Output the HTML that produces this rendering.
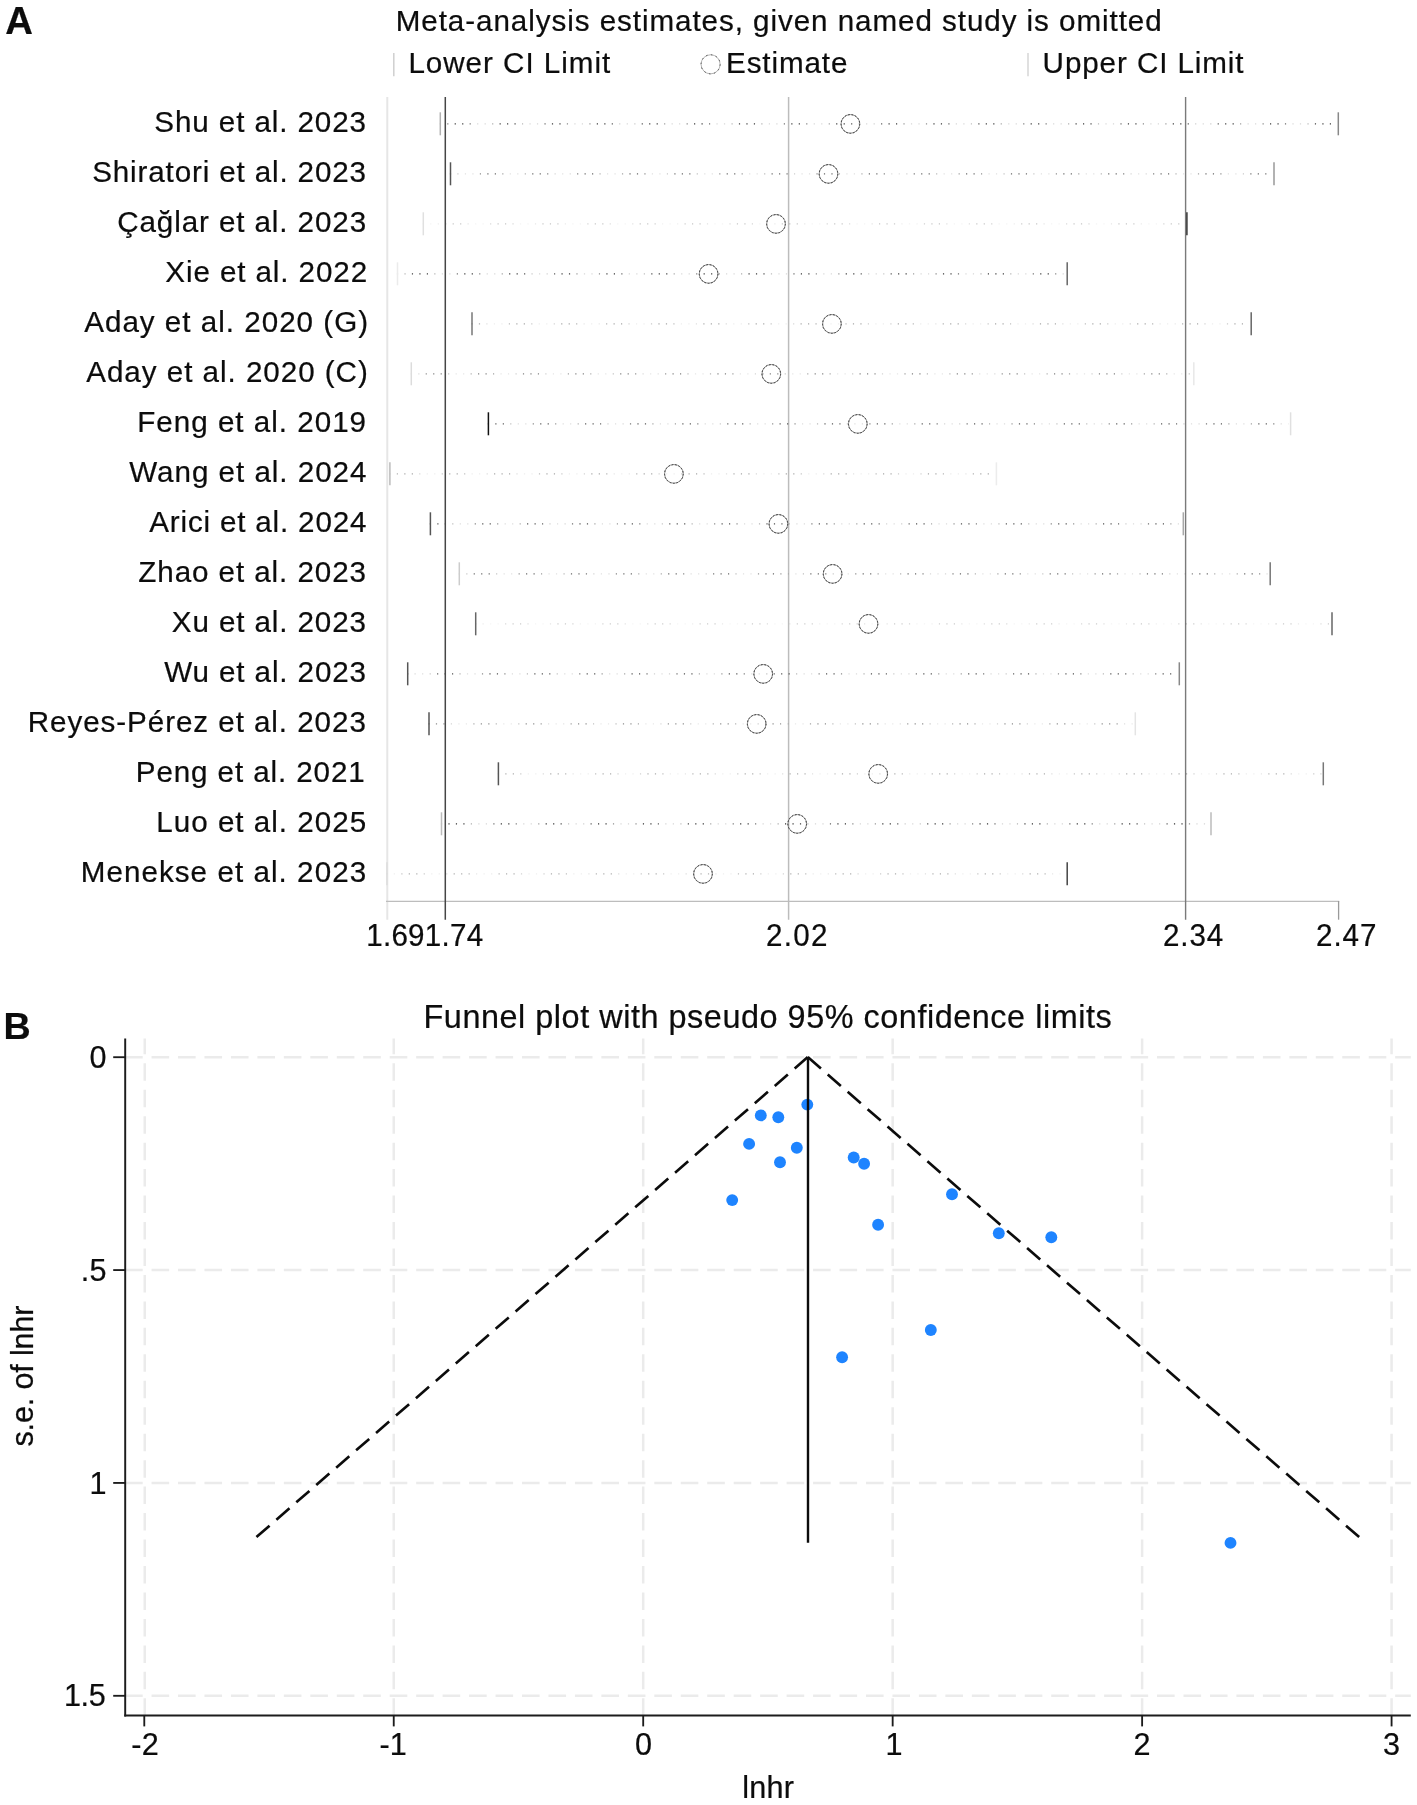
<!DOCTYPE html>
<html lang="en">
<head>
<meta charset="utf-8">
<title>Figure: leave-one-out meta-analysis and funnel plot</title>
<style>
html,body{margin:0;padding:0;background:#fff;}
body{width:1417px;height:1805px;overflow:hidden;font-family:"Liberation Sans",sans-serif;}
svg{display:block;will-change:transform;}
text{font-family:"Liberation Sans",sans-serif;fill:#0c0c0c;stroke:#0c0c0c;stroke-width:0.22px;white-space:pre;}
</style>
</head>
<body>
<svg width="1417" height="1805" viewBox="0 0 1417 1805">
<rect x="0" y="0" width="1417" height="1805" fill="#ffffff"/>
<defs>
<linearGradient id="m0" gradientUnits="userSpaceOnUse" x1="459.2" y1="0" x2="507.2" y2="0" spreadMethod="repeat"><stop offset="0" stop-color="#333" stop-opacity="1"/><stop offset="0.15" stop-color="#333" stop-opacity="1"/><stop offset="0.36" stop-color="#333" stop-opacity="0.2"/><stop offset="0.64" stop-color="#333" stop-opacity="0.2"/><stop offset="0.85" stop-color="#333" stop-opacity="1"/><stop offset="1" stop-color="#333" stop-opacity="1"/></linearGradient>
<linearGradient id="m1" gradientUnits="userSpaceOnUse" x1="490.8" y1="0" x2="538.8" y2="0" spreadMethod="repeat"><stop offset="0" stop-color="#333" stop-opacity="1"/><stop offset="0.15" stop-color="#333" stop-opacity="1"/><stop offset="0.36" stop-color="#333" stop-opacity="0.2"/><stop offset="0.64" stop-color="#333" stop-opacity="0.2"/><stop offset="0.85" stop-color="#333" stop-opacity="1"/><stop offset="1" stop-color="#333" stop-opacity="1"/></linearGradient>
<linearGradient id="m2" gradientUnits="userSpaceOnUse" x1="454" y1="0" x2="502" y2="0" spreadMethod="repeat"><stop offset="0" stop-color="#333" stop-opacity="1"/><stop offset="0.15" stop-color="#333" stop-opacity="1"/><stop offset="0.36" stop-color="#333" stop-opacity="0.2"/><stop offset="0.64" stop-color="#333" stop-opacity="0.2"/><stop offset="0.85" stop-color="#333" stop-opacity="1"/><stop offset="1" stop-color="#333" stop-opacity="1"/></linearGradient>
<linearGradient id="m3" gradientUnits="userSpaceOnUse" x1="420" y1="0" x2="468" y2="0" spreadMethod="repeat"><stop offset="0" stop-color="#333" stop-opacity="1"/><stop offset="0.15" stop-color="#333" stop-opacity="1"/><stop offset="0.36" stop-color="#333" stop-opacity="0.2"/><stop offset="0.64" stop-color="#333" stop-opacity="0.2"/><stop offset="0.85" stop-color="#333" stop-opacity="1"/><stop offset="1" stop-color="#333" stop-opacity="1"/></linearGradient>
<linearGradient id="m4" gradientUnits="userSpaceOnUse" x1="519.7" y1="0" x2="567.7" y2="0" spreadMethod="repeat"><stop offset="0" stop-color="#333" stop-opacity="1"/><stop offset="0.15" stop-color="#333" stop-opacity="1"/><stop offset="0.36" stop-color="#333" stop-opacity="0.2"/><stop offset="0.64" stop-color="#333" stop-opacity="0.2"/><stop offset="0.85" stop-color="#333" stop-opacity="1"/><stop offset="1" stop-color="#333" stop-opacity="1"/></linearGradient>
<linearGradient id="m5" gradientUnits="userSpaceOnUse" x1="435" y1="0" x2="483" y2="0" spreadMethod="repeat"><stop offset="0" stop-color="#333" stop-opacity="1"/><stop offset="0.15" stop-color="#333" stop-opacity="1"/><stop offset="0.36" stop-color="#333" stop-opacity="0.2"/><stop offset="0.64" stop-color="#333" stop-opacity="0.2"/><stop offset="0.85" stop-color="#333" stop-opacity="1"/><stop offset="1" stop-color="#333" stop-opacity="1"/></linearGradient>
<linearGradient id="m6" gradientUnits="userSpaceOnUse" x1="496" y1="0" x2="544" y2="0" spreadMethod="repeat"><stop offset="0" stop-color="#333" stop-opacity="1"/><stop offset="0.15" stop-color="#333" stop-opacity="1"/><stop offset="0.36" stop-color="#333" stop-opacity="0.2"/><stop offset="0.64" stop-color="#333" stop-opacity="0.2"/><stop offset="0.85" stop-color="#333" stop-opacity="1"/><stop offset="1" stop-color="#333" stop-opacity="1"/></linearGradient>
<linearGradient id="m7" gradientUnits="userSpaceOnUse" x1="406" y1="0" x2="454" y2="0" spreadMethod="repeat"><stop offset="0" stop-color="#333" stop-opacity="1"/><stop offset="0.15" stop-color="#333" stop-opacity="1"/><stop offset="0.36" stop-color="#333" stop-opacity="0.2"/><stop offset="0.64" stop-color="#333" stop-opacity="0.2"/><stop offset="0.85" stop-color="#333" stop-opacity="1"/><stop offset="1" stop-color="#333" stop-opacity="1"/></linearGradient>
<linearGradient id="m8" gradientUnits="userSpaceOnUse" x1="485.9" y1="0" x2="533.9" y2="0" spreadMethod="repeat"><stop offset="0" stop-color="#333" stop-opacity="1"/><stop offset="0.15" stop-color="#333" stop-opacity="1"/><stop offset="0.36" stop-color="#333" stop-opacity="0.2"/><stop offset="0.64" stop-color="#333" stop-opacity="0.2"/><stop offset="0.85" stop-color="#333" stop-opacity="1"/><stop offset="1" stop-color="#333" stop-opacity="1"/></linearGradient>
<linearGradient id="m9" gradientUnits="userSpaceOnUse" x1="481.9" y1="0" x2="529.9" y2="0" spreadMethod="repeat"><stop offset="0" stop-color="#333" stop-opacity="1"/><stop offset="0.15" stop-color="#333" stop-opacity="1"/><stop offset="0.36" stop-color="#333" stop-opacity="0.2"/><stop offset="0.64" stop-color="#333" stop-opacity="0.2"/><stop offset="0.85" stop-color="#333" stop-opacity="1"/><stop offset="1" stop-color="#333" stop-opacity="1"/></linearGradient>
<linearGradient id="m10" gradientUnits="userSpaceOnUse" x1="516.1" y1="0" x2="564.1" y2="0" spreadMethod="repeat"><stop offset="0" stop-color="#333" stop-opacity="1"/><stop offset="0.15" stop-color="#333" stop-opacity="1"/><stop offset="0.36" stop-color="#333" stop-opacity="0.2"/><stop offset="0.64" stop-color="#333" stop-opacity="0.2"/><stop offset="0.85" stop-color="#333" stop-opacity="1"/><stop offset="1" stop-color="#333" stop-opacity="1"/></linearGradient>
<linearGradient id="m11" gradientUnits="userSpaceOnUse" x1="446" y1="0" x2="494" y2="0" spreadMethod="repeat"><stop offset="0" stop-color="#333" stop-opacity="1"/><stop offset="0.15" stop-color="#333" stop-opacity="1"/><stop offset="0.36" stop-color="#333" stop-opacity="0.2"/><stop offset="0.64" stop-color="#333" stop-opacity="0.2"/><stop offset="0.85" stop-color="#333" stop-opacity="1"/><stop offset="1" stop-color="#333" stop-opacity="1"/></linearGradient>
<linearGradient id="m12" gradientUnits="userSpaceOnUse" x1="484.4" y1="0" x2="532.4" y2="0" spreadMethod="repeat"><stop offset="0" stop-color="#333" stop-opacity="1"/><stop offset="0.15" stop-color="#333" stop-opacity="1"/><stop offset="0.36" stop-color="#333" stop-opacity="0.2"/><stop offset="0.64" stop-color="#333" stop-opacity="0.2"/><stop offset="0.85" stop-color="#333" stop-opacity="1"/><stop offset="1" stop-color="#333" stop-opacity="1"/></linearGradient>
<linearGradient id="m13" gradientUnits="userSpaceOnUse" x1="509.4" y1="0" x2="557.4" y2="0" spreadMethod="repeat"><stop offset="0" stop-color="#333" stop-opacity="1"/><stop offset="0.15" stop-color="#333" stop-opacity="1"/><stop offset="0.36" stop-color="#333" stop-opacity="0.2"/><stop offset="0.64" stop-color="#333" stop-opacity="0.2"/><stop offset="0.85" stop-color="#333" stop-opacity="1"/><stop offset="1" stop-color="#333" stop-opacity="1"/></linearGradient>
<linearGradient id="m14" gradientUnits="userSpaceOnUse" x1="456.6" y1="0" x2="504.6" y2="0" spreadMethod="repeat"><stop offset="0" stop-color="#333" stop-opacity="1"/><stop offset="0.15" stop-color="#333" stop-opacity="1"/><stop offset="0.36" stop-color="#333" stop-opacity="0.2"/><stop offset="0.64" stop-color="#333" stop-opacity="0.2"/><stop offset="0.85" stop-color="#333" stop-opacity="1"/><stop offset="1" stop-color="#333" stop-opacity="1"/></linearGradient>
<linearGradient id="m15" gradientUnits="userSpaceOnUse" x1="412.5" y1="0" x2="460.5" y2="0" spreadMethod="repeat"><stop offset="0" stop-color="#333" stop-opacity="1"/><stop offset="0.15" stop-color="#333" stop-opacity="1"/><stop offset="0.36" stop-color="#333" stop-opacity="0.2"/><stop offset="0.64" stop-color="#333" stop-opacity="0.2"/><stop offset="0.85" stop-color="#333" stop-opacity="1"/><stop offset="1" stop-color="#333" stop-opacity="1"/></linearGradient>
</defs>
<!-- Panel A: leave-one-out forest -->
<g id="panelA">
<line x1="387.3" y1="97" x2="387.3" y2="919.7" stroke="#e6e6e6" stroke-width="2"/>
<line x1="386" y1="901.3" x2="1339.2" y2="901.3" stroke="#bdbdbd" stroke-width="1.3"/>
<line x1="788.6" y1="97" x2="788.6" y2="919.7" stroke="#bcbcbc" stroke-width="1.5"/>
<line x1="1185.6" y1="97" x2="1185.6" y2="919.7" stroke="#7a7a7a" stroke-width="1.4"/>
<line x1="1338.6" y1="901" x2="1338.6" y2="919.7" stroke="#9a9a9a" stroke-width="1.3"/>
<line x1="439.7" y1="123.8" x2="1336.3" y2="123.8" stroke="url(#m0)" stroke-opacity="0.96" stroke-width="1.15" stroke-dasharray="1.2 6.28"/>
<line x1="449.9" y1="173.8" x2="1272" y2="173.8" stroke="url(#m1)" stroke-opacity="0.74" stroke-width="1.15" stroke-dasharray="1.2 6.28"/>
<line x1="422.7" y1="223.8" x2="1184.9" y2="223.8" stroke="url(#m2)" stroke-opacity="0.28" stroke-width="1.15" stroke-dasharray="1.2 6.28"/>
<line x1="396.9" y1="273.8" x2="1065.2" y2="273.8" stroke="url(#m3)" stroke-opacity="0.96" stroke-width="1.15" stroke-dasharray="1.2 6.28"/>
<line x1="471.4" y1="323.8" x2="1249.2" y2="323.8" stroke="url(#m4)" stroke-opacity="0.43" stroke-width="1.15" stroke-dasharray="1.2 6.28"/>
<line x1="410.7" y1="373.8" x2="1191.8" y2="373.8" stroke="url(#m5)" stroke-opacity="0.62" stroke-width="1.15" stroke-dasharray="1.2 6.28"/>
<line x1="487.8" y1="423.8" x2="1288.6" y2="423.8" stroke="url(#m6)" stroke-opacity="0.81" stroke-width="1.15" stroke-dasharray="1.2 6.28"/>
<line x1="389.3" y1="473.8" x2="994.4" y2="473.8" stroke="url(#m7)" stroke-opacity="0.43" stroke-width="1.15" stroke-dasharray="1.2 6.28"/>
<line x1="429.8" y1="523.8" x2="1181.3" y2="523.8" stroke="url(#m8)" stroke-opacity="0.85" stroke-width="1.15" stroke-dasharray="1.2 6.28"/>
<line x1="458.7" y1="573.8" x2="1268.2" y2="573.8" stroke="url(#m9)" stroke-opacity="0.74" stroke-width="1.15" stroke-dasharray="1.2 6.28"/>
<line x1="475.1" y1="623.8" x2="1330" y2="623.8" stroke="url(#m10)" stroke-opacity="0.25" stroke-width="1.15" stroke-dasharray="1.2 6.28"/>
<line x1="407.1" y1="673.8" x2="1177.3" y2="673.8" stroke="url(#m11)" stroke-opacity="0.85" stroke-width="1.15" stroke-dasharray="1.2 6.28"/>
<line x1="428.4" y1="723.8" x2="1133.3" y2="723.8" stroke="url(#m12)" stroke-opacity="0.56" stroke-width="1.15" stroke-dasharray="1.2 6.28"/>
<line x1="497.8" y1="773.8" x2="1321.3" y2="773.8" stroke="url(#m13)" stroke-opacity="0.40" stroke-width="1.15" stroke-dasharray="1.2 6.28"/>
<line x1="440.9" y1="823.8" x2="1209" y2="823.8" stroke="url(#m14)" stroke-opacity="1.00" stroke-width="1.15" stroke-dasharray="1.2 6.28"/>
<line x1="386.3" y1="873.8" x2="1065.2" y2="873.8" stroke="url(#m15)" stroke-opacity="0.40" stroke-width="1.15" stroke-dasharray="1.2 6.28"/>
<line x1="440.3" y1="112.3" x2="440.3" y2="135.3" stroke="#b2b2b2" stroke-width="1.5"/>
<line x1="1338.3" y1="112.3" x2="1338.3" y2="135.3" stroke="#888888" stroke-width="1.5"/>
<circle cx="850.4" cy="123.9" r="9.35" fill="none" stroke="#8e8e8e" stroke-width="1"/>
<circle cx="850.4" cy="123.9" r="9.35" fill="none" stroke="#3c3c3c" stroke-width="1" stroke-dasharray="1.6 1.86"/>
<line x1="450.5" y1="162.3" x2="450.5" y2="185.3" stroke="#555555" stroke-width="1.5"/>
<line x1="1274" y1="162.3" x2="1274" y2="185.3" stroke="#999999" stroke-width="1.5"/>
<circle cx="828.5" cy="173.9" r="9.35" fill="none" stroke="#8e8e8e" stroke-width="1"/>
<circle cx="828.5" cy="173.9" r="9.35" fill="none" stroke="#3c3c3c" stroke-width="1" stroke-dasharray="1.6 1.86"/>
<line x1="423.3" y1="212.3" x2="423.3" y2="235.3" stroke="#e0e0e0" stroke-width="1.5"/>
<line x1="1186.9" y1="212.3" x2="1186.9" y2="235.3" stroke="#333333" stroke-width="1.5"/>
<circle cx="776" cy="223.9" r="9.35" fill="none" stroke="#8e8e8e" stroke-width="1"/>
<circle cx="776" cy="223.9" r="9.35" fill="none" stroke="#3c3c3c" stroke-width="1" stroke-dasharray="1.6 1.86"/>
<line x1="397.5" y1="262.3" x2="397.5" y2="285.3" stroke="#ebebeb" stroke-width="1.5"/>
<line x1="1067.2" y1="262.3" x2="1067.2" y2="285.3" stroke="#666666" stroke-width="1.5"/>
<circle cx="708.6" cy="273.9" r="9.35" fill="none" stroke="#8e8e8e" stroke-width="1"/>
<circle cx="708.6" cy="273.9" r="9.35" fill="none" stroke="#3c3c3c" stroke-width="1" stroke-dasharray="1.6 1.86"/>
<line x1="472" y1="312.3" x2="472" y2="335.3" stroke="#777777" stroke-width="1.5"/>
<line x1="1251.2" y1="312.3" x2="1251.2" y2="335.3" stroke="#666666" stroke-width="1.5"/>
<circle cx="831.9" cy="323.9" r="9.35" fill="none" stroke="#8e8e8e" stroke-width="1"/>
<circle cx="831.9" cy="323.9" r="9.35" fill="none" stroke="#3c3c3c" stroke-width="1" stroke-dasharray="1.6 1.86"/>
<line x1="411.3" y1="362.3" x2="411.3" y2="385.3" stroke="#dcdcdc" stroke-width="1.5"/>
<line x1="1193.8" y1="362.3" x2="1193.8" y2="385.3" stroke="#e8e8e8" stroke-width="1.5"/>
<circle cx="771.3" cy="373.9" r="9.35" fill="none" stroke="#8e8e8e" stroke-width="1"/>
<circle cx="771.3" cy="373.9" r="9.35" fill="none" stroke="#3c3c3c" stroke-width="1" stroke-dasharray="1.6 1.86"/>
<line x1="488.4" y1="412.3" x2="488.4" y2="435.3" stroke="#111111" stroke-width="1.5"/>
<line x1="1290.6" y1="412.3" x2="1290.6" y2="435.3" stroke="#e0e0e0" stroke-width="1.5"/>
<circle cx="857.8" cy="423.9" r="9.35" fill="none" stroke="#8e8e8e" stroke-width="1"/>
<circle cx="857.8" cy="423.9" r="9.35" fill="none" stroke="#3c3c3c" stroke-width="1" stroke-dasharray="1.6 1.86"/>
<line x1="389.9" y1="462.3" x2="389.9" y2="485.3" stroke="#bbbbbb" stroke-width="1.5"/>
<line x1="996.4" y1="462.3" x2="996.4" y2="485.3" stroke="#ececec" stroke-width="1.5"/>
<circle cx="673.9" cy="473.9" r="9.35" fill="none" stroke="#8e8e8e" stroke-width="1"/>
<circle cx="673.9" cy="473.9" r="9.35" fill="none" stroke="#3c3c3c" stroke-width="1" stroke-dasharray="1.6 1.86"/>
<line x1="430.4" y1="512.3" x2="430.4" y2="535.3" stroke="#555555" stroke-width="1.5"/>
<line x1="1183.3" y1="512.3" x2="1183.3" y2="535.3" stroke="#a8a8a8" stroke-width="1.5"/>
<circle cx="778.4" cy="523.9" r="9.35" fill="none" stroke="#8e8e8e" stroke-width="1"/>
<circle cx="778.4" cy="523.9" r="9.35" fill="none" stroke="#3c3c3c" stroke-width="1" stroke-dasharray="1.6 1.86"/>
<line x1="459.3" y1="562.3" x2="459.3" y2="585.3" stroke="#cccccc" stroke-width="1.5"/>
<line x1="1270.2" y1="562.3" x2="1270.2" y2="585.3" stroke="#777777" stroke-width="1.5"/>
<circle cx="832.6" cy="573.9" r="9.35" fill="none" stroke="#8e8e8e" stroke-width="1"/>
<circle cx="832.6" cy="573.9" r="9.35" fill="none" stroke="#3c3c3c" stroke-width="1" stroke-dasharray="1.6 1.86"/>
<line x1="475.7" y1="612.3" x2="475.7" y2="635.3" stroke="#666666" stroke-width="1.5"/>
<line x1="1332" y1="612.3" x2="1332" y2="635.3" stroke="#666666" stroke-width="1.5"/>
<circle cx="868.5" cy="623.9" r="9.35" fill="none" stroke="#8e8e8e" stroke-width="1"/>
<circle cx="868.5" cy="623.9" r="9.35" fill="none" stroke="#3c3c3c" stroke-width="1" stroke-dasharray="1.6 1.86"/>
<line x1="407.7" y1="662.3" x2="407.7" y2="685.3" stroke="#555555" stroke-width="1.5"/>
<line x1="1179.3" y1="662.3" x2="1179.3" y2="685.3" stroke="#888888" stroke-width="1.5"/>
<circle cx="763.2" cy="673.9" r="9.35" fill="none" stroke="#8e8e8e" stroke-width="1"/>
<circle cx="763.2" cy="673.9" r="9.35" fill="none" stroke="#3c3c3c" stroke-width="1" stroke-dasharray="1.6 1.86"/>
<line x1="429" y1="712.3" x2="429" y2="735.3" stroke="#555555" stroke-width="1.5"/>
<line x1="1135.3" y1="712.3" x2="1135.3" y2="735.3" stroke="#e4e4e4" stroke-width="1.5"/>
<circle cx="756.7" cy="723.9" r="9.35" fill="none" stroke="#8e8e8e" stroke-width="1"/>
<circle cx="756.7" cy="723.9" r="9.35" fill="none" stroke="#3c3c3c" stroke-width="1" stroke-dasharray="1.6 1.86"/>
<line x1="498.4" y1="762.3" x2="498.4" y2="785.3" stroke="#555555" stroke-width="1.5"/>
<line x1="1323.3" y1="762.3" x2="1323.3" y2="785.3" stroke="#777777" stroke-width="1.5"/>
<circle cx="878.2" cy="773.9" r="9.35" fill="none" stroke="#8e8e8e" stroke-width="1"/>
<circle cx="878.2" cy="773.9" r="9.35" fill="none" stroke="#3c3c3c" stroke-width="1" stroke-dasharray="1.6 1.86"/>
<line x1="441.5" y1="812.3" x2="441.5" y2="835.3" stroke="#bbbbbb" stroke-width="1.5"/>
<line x1="1211" y1="812.3" x2="1211" y2="835.3" stroke="#bbbbbb" stroke-width="1.5"/>
<circle cx="797.2" cy="823.9" r="9.35" fill="none" stroke="#8e8e8e" stroke-width="1"/>
<circle cx="797.2" cy="823.9" r="9.35" fill="none" stroke="#3c3c3c" stroke-width="1" stroke-dasharray="1.6 1.86"/>
<line x1="386.9" y1="862.3" x2="386.9" y2="885.3" stroke="#dddddd" stroke-width="1.5"/>
<line x1="1067.2" y1="862.3" x2="1067.2" y2="885.3" stroke="#444444" stroke-width="1.5"/>
<circle cx="703" cy="873.9" r="9.35" fill="none" stroke="#8e8e8e" stroke-width="1"/>
<circle cx="703" cy="873.9" r="9.35" fill="none" stroke="#3c3c3c" stroke-width="1" stroke-dasharray="1.6 1.86"/>
<line x1="445.3" y1="97" x2="445.3" y2="919.7" stroke="#464646" stroke-width="1.5"/>
<line x1="393.8" y1="52.9" x2="393.8" y2="76.2" stroke="#cfcfcf" stroke-width="1.5"/>
<circle cx="710.6" cy="64.3" r="9.55" fill="none" stroke="#b4b4b4" stroke-width="1"/>
<circle cx="710.6" cy="64.3" r="9.55" fill="none" stroke="#555" stroke-width="1" stroke-dasharray="1.5 3.5"/>
<line x1="1028" y1="52.9" x2="1028" y2="76.2" stroke="#d6d6d6" stroke-width="1.5"/>
</g>
<!-- Panel B: funnel plot -->
<g id="panelB">
<line x1="125.1" y1="1057.2" x2="1410.8" y2="1057.2" stroke="#ebebeb" stroke-width="2.5" stroke-dasharray="17.6 8.86"/>
<line x1="125.1" y1="1270.07" x2="1410.8" y2="1270.07" stroke="#ebebeb" stroke-width="2.5" stroke-dasharray="17.6 8.86"/>
<line x1="125.1" y1="1482.93" x2="1410.8" y2="1482.93" stroke="#ebebeb" stroke-width="2.5" stroke-dasharray="17.6 8.86"/>
<line x1="125.1" y1="1695.8" x2="1410.8" y2="1695.8" stroke="#ebebeb" stroke-width="2.5" stroke-dasharray="17.6 8.86"/>
<line x1="144.78" y1="1036.8" x2="144.78" y2="1715" stroke="#ebebeb" stroke-width="2.5" stroke-dasharray="17.5 8.96"/>
<line x1="393.74" y1="1036.8" x2="393.74" y2="1715" stroke="#ebebeb" stroke-width="2.5" stroke-dasharray="17.5 8.96"/>
<line x1="643.2" y1="1036.8" x2="643.2" y2="1715" stroke="#ebebeb" stroke-width="2.5" stroke-dasharray="17.5 8.96"/>
<line x1="892.66" y1="1036.8" x2="892.66" y2="1715" stroke="#ebebeb" stroke-width="2.5" stroke-dasharray="17.5 8.96"/>
<line x1="1142.12" y1="1036.8" x2="1142.12" y2="1715" stroke="#ebebeb" stroke-width="2.5" stroke-dasharray="17.5 8.96"/>
<line x1="1391.58" y1="1036.8" x2="1391.58" y2="1715" stroke="#ebebeb" stroke-width="2.5" stroke-dasharray="17.5 8.96"/>
<rect x="120" y="1034" width="1295" height="4.5" fill="#fff"/>
<line x1="125.2" y1="1038.5" x2="125.2" y2="1716.4" stroke="#1c1c1c" stroke-width="1.95"/>
<line x1="124.3" y1="1715.5" x2="1410.8" y2="1715.5" stroke="#1c1c1c" stroke-width="1.95"/>
<line x1="113.2" y1="1057.2" x2="125.2" y2="1057.2" stroke="#1c1c1c" stroke-width="1.85"/>
<line x1="113.2" y1="1270.07" x2="125.2" y2="1270.07" stroke="#1c1c1c" stroke-width="1.85"/>
<line x1="113.2" y1="1482.93" x2="125.2" y2="1482.93" stroke="#1c1c1c" stroke-width="1.85"/>
<line x1="113.2" y1="1695.8" x2="125.2" y2="1695.8" stroke="#1c1c1c" stroke-width="1.85"/>
<line x1="144.28" y1="1715.5" x2="144.28" y2="1726.4" stroke="#1c1c1c" stroke-width="1.85"/>
<line x1="393.74" y1="1715.5" x2="393.74" y2="1726.4" stroke="#1c1c1c" stroke-width="1.85"/>
<line x1="643.2" y1="1715.5" x2="643.2" y2="1726.4" stroke="#1c1c1c" stroke-width="1.85"/>
<line x1="892.66" y1="1715.5" x2="892.66" y2="1726.4" stroke="#1c1c1c" stroke-width="1.85"/>
<line x1="1142.12" y1="1715.5" x2="1142.12" y2="1726.4" stroke="#1c1c1c" stroke-width="1.85"/>
<line x1="1391.58" y1="1715.5" x2="1391.58" y2="1726.4" stroke="#1c1c1c" stroke-width="1.85"/>
<line x1="807.8" y1="1057.1" x2="256.3" y2="1537.2" stroke="#0c0c0c" stroke-width="2.65" stroke-dasharray="17.4 9.03"/>
<line x1="807.8" y1="1057.1" x2="1359.3" y2="1537.2" stroke="#0c0c0c" stroke-width="2.65" stroke-dasharray="17.4 9.03"/>
<circle cx="807.3" cy="1104.6" r="5.95" fill="#1e84ff"/>
<circle cx="760.8" cy="1115.4" r="5.95" fill="#1e84ff"/>
<circle cx="778.3" cy="1117.3" r="5.95" fill="#1e84ff"/>
<circle cx="749.1" cy="1143.9" r="5.95" fill="#1e84ff"/>
<circle cx="796.8" cy="1147.8" r="5.95" fill="#1e84ff"/>
<circle cx="780" cy="1162.2" r="5.95" fill="#1e84ff"/>
<circle cx="853.7" cy="1157.5" r="5.95" fill="#1e84ff"/>
<circle cx="864.1" cy="1163.8" r="5.95" fill="#1e84ff"/>
<circle cx="732.2" cy="1200.1" r="5.95" fill="#1e84ff"/>
<circle cx="952" cy="1194.3" r="5.95" fill="#1e84ff"/>
<circle cx="878.1" cy="1224.8" r="5.95" fill="#1e84ff"/>
<circle cx="998.8" cy="1233.2" r="5.95" fill="#1e84ff"/>
<circle cx="1051.3" cy="1237.3" r="5.95" fill="#1e84ff"/>
<circle cx="930.8" cy="1330" r="5.95" fill="#1e84ff"/>
<circle cx="842.1" cy="1357.3" r="5.95" fill="#1e84ff"/>
<circle cx="1230.5" cy="1542.9" r="5.95" fill="#1e84ff"/>
<line x1="808" y1="1057.1" x2="808" y2="1542.8" stroke="#0c0c0c" stroke-width="2.4"/>
</g>
<!-- Text -->
<g id="labels">
<text x="5.2" y="34" style="font-size:38.3px;font-weight:700">A</text>
<text x="3.5" y="1039.1" style="font-size:37.7px;font-weight:700">B</text>
<text x="395.7" y="31" style="font-size:29.6px;letter-spacing:0.94px">Meta-analysis estimates, given named study is omitted</text>
<text x="408.4" y="72.6" style="font-size:29.6px;letter-spacing:0.98px">Lower CI Limit</text>
<text x="726" y="72.6" style="font-size:29.6px;letter-spacing:0.9px">Estimate</text>
<text x="1042.6" y="72.6" style="font-size:29.6px;letter-spacing:0.91px">Upper CI Limit</text>
<text x="154.3" y="132.1" style="font-size:29.6px;letter-spacing:0.9px">Shu et al. 2023</text>
<text x="92.2" y="182.1" style="font-size:29.6px;letter-spacing:0.86px">Shiratori et al. 2023</text>
<text x="117.2" y="232.1" style="font-size:29.6px;letter-spacing:0.9px">Çağlar et al. 2023</text>
<text x="165.3" y="282.1" style="font-size:29.6px;letter-spacing:0.9px">Xie et al. 2022</text>
<text x="84.2" y="332.1" style="font-size:29.6px;letter-spacing:1px">Aday et al. 2020 (G)</text>
<text x="86.2" y="382.1" style="font-size:29.6px;letter-spacing:0.97px">Aday et al. 2020 (C)</text>
<text x="137.3" y="432.1" style="font-size:29.6px;letter-spacing:0.99px">Feng et al. 2019</text>
<text x="129.3" y="482.1" style="font-size:29.6px;letter-spacing:0.97px">Wang et al. 2024</text>
<text x="149.3" y="532.1" style="font-size:29.6px;letter-spacing:0.82px">Arici et al. 2024</text>
<text x="138.3" y="582.1" style="font-size:29.6px;letter-spacing:0.92px">Zhao et al. 2023</text>
<text x="171.8" y="632.1" style="font-size:29.6px;letter-spacing:0.89px">Xu et al. 2023</text>
<text x="164.3" y="682.1" style="font-size:29.6px;letter-spacing:0.88px">Wu et al. 2023</text>
<text x="27.7" y="732.1" style="font-size:29.6px;letter-spacing:0.94px">Reyes-Pérez et al. 2023</text>
<text x="135.8" y="782.1" style="font-size:29.6px;letter-spacing:0.89px">Peng et al. 2021</text>
<text x="156.3" y="832.1" style="font-size:29.6px;letter-spacing:1px">Luo et al. 2025</text>
<text x="80.7" y="882.1" style="font-size:29.6px;letter-spacing:1.05px">Menekse et al. 2023</text>
<text transform="translate(366.2 946.4) scale(1 1.04)" style="font-size:29.6px;letter-spacing:0.25px">1.691.74</text>
<text transform="translate(765.93 946.4) scale(1 1.04)" style="font-size:29.6px;letter-spacing:1.3px">2.02</text>
<text transform="translate(1162.98 946.4) scale(1 1.04)" style="font-size:29.6px;letter-spacing:0.9px">2.34</text>
<text transform="translate(1316.08 946.4) scale(1 1.04)" style="font-size:29.6px;letter-spacing:0.9px">2.47</text>
<text x="423.5" y="1027.5" style="font-size:32.4px;letter-spacing:0.54px">Funnel plot with pseudo 95% confidence limits</text>
<text transform="translate(89.6 1067.9) scale(1 1.035)" style="font-size:30.6px">0</text>
<text transform="translate(80.8 1281.1) scale(1 1.035)" style="font-size:30.6px;letter-spacing:0.2px">.5</text>
<text transform="translate(89.4 1493.7) scale(1 1.035)" style="font-size:30.6px">1</text>
<text transform="translate(63.89 1706.3) scale(1 1.035)" style="font-size:30.6px;letter-spacing:-0.3px">1.5</text>
<text transform="translate(131.16 1755) scale(1 1.035)" style="font-size:30.6px;letter-spacing:0.3px">-2</text>
<text transform="translate(379.61 1755) scale(1 1.035)" style="font-size:30.6px">-1</text>
<text transform="translate(635 1755) scale(1 1.035)" style="font-size:30.6px">0</text>
<text transform="translate(885.4 1755) scale(1 1.035)" style="font-size:30.6px">1</text>
<text transform="translate(1133.4 1755) scale(1 1.035)" style="font-size:30.6px">2</text>
<text transform="translate(1383.1 1755) scale(1 1.035)" style="font-size:30.6px">3</text>
<text x="742.2" y="1797.7" style="font-size:30.6px;letter-spacing:0.22px">lnhr</text>
<text transform="translate(32.6 1446.5) rotate(-90) scale(1 1.055)" x="0" y="0" style="font-size:30.6px;letter-spacing:-0.17px">s.e. of lnhr</text>
</g>
</svg>
</body>
</html>
